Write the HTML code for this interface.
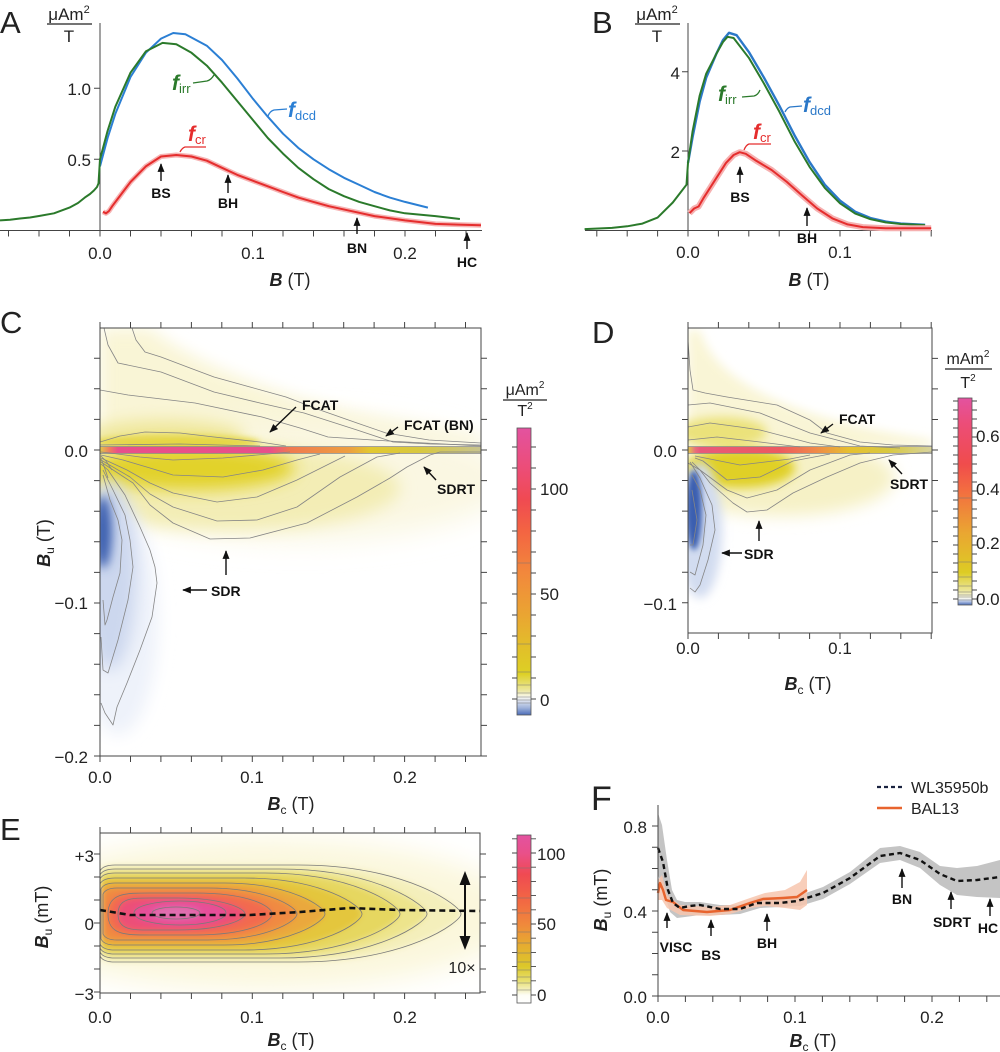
<!DOCTYPE html>
<html><head><meta charset="utf-8"><style>
html,body{margin:0;padding:0;background:#fff;}
svg{display:block;}
.t{font-family:"Liberation Sans",sans-serif;fill:#222;}
.b{font-family:"Liberation Sans Narrow","Liberation Sans",sans-serif;font-weight:bold;fill:#111;}
</style></head><body>
<svg xmlns="http://www.w3.org/2000/svg" width="1000" height="1052" viewBox="0 0 1000 1052">
<defs>
<marker id="ar" viewBox="0 0 10 8" refX="9" refY="4" markerWidth="9" markerHeight="7" markerUnits="userSpaceOnUse" orient="auto"><path d="M0,0L10,4L0,8z" fill="#111"/></marker>
<filter id="f3" x="-50%" y="-50%" width="200%" height="200%"><feGaussianBlur stdDeviation="3"/></filter>
<filter id="f5" x="-50%" y="-50%" width="200%" height="200%"><feGaussianBlur stdDeviation="5"/></filter>
<filter id="f8" x="-50%" y="-50%" width="200%" height="200%"><feGaussianBlur stdDeviation="8"/></filter>
<filter id="f14" x="-50%" y="-50%" width="200%" height="200%"><feGaussianBlur stdDeviation="14"/></filter>
<clipPath id="cC"><rect x="100" y="328" width="381" height="428"/></clipPath>
<clipPath id="cD"><rect x="688" y="328" width="244" height="305"/></clipPath>
<clipPath id="cE"><rect x="100" y="833" width="380" height="160"/></clipPath>
<linearGradient id="cbC" x1="0" y1="0" x2="0" y2="1">
<stop offset="0" stop-color="#e352a0"/><stop offset="0.139" stop-color="#ec4d78"/><stop offset="0.249" stop-color="#f04a52"/><stop offset="0.359" stop-color="#f36442"/><stop offset="0.505" stop-color="#f2883c"/><stop offset="0.652" stop-color="#eaa532"/><stop offset="0.761" stop-color="#e2be2a"/><stop offset="0.856" stop-color="#ddd024"/><stop offset="0.915" stop-color="#ece7a0"/><stop offset="0.937" stop-color="#f8f8ee"/><stop offset="0.95" stop-color="#dde3f0"/><stop offset="0.975" stop-color="#9fb2da"/><stop offset="1" stop-color="#4a6cb8"/>
</linearGradient>
<linearGradient id="cbD" x1="0" y1="0" x2="0" y2="1">
<stop offset="0" stop-color="#e352a0"/><stop offset="0.123" stop-color="#ec4d78"/><stop offset="0.319" stop-color="#f04c4c"/><stop offset="0.45" stop-color="#f36e40"/><stop offset="0.647" stop-color="#eaa532"/><stop offset="0.843" stop-color="#ddcc24"/><stop offset="0.935" stop-color="#ece7a0"/><stop offset="0.967" stop-color="#f8f8ee"/><stop offset="0.98" stop-color="#c5d1ea"/><stop offset="1" stop-color="#4a6cb8"/>
</linearGradient>
<linearGradient id="cbE" x1="0" y1="0" x2="0" y2="1">
<stop offset="0" stop-color="#e352a0"/><stop offset="0.107" stop-color="#e9508a"/><stop offset="0.234" stop-color="#f04a52"/><stop offset="0.403" stop-color="#f26a42"/><stop offset="0.53" stop-color="#f0883c"/><stop offset="0.657" stop-color="#e6ac30"/><stop offset="0.784" stop-color="#dcc82a"/><stop offset="0.868" stop-color="#e8e070"/><stop offset="0.927" stop-color="#f5f2c8"/><stop offset="0.953" stop-color="#fdfdf5"/><stop offset="1" stop-color="#ffffff"/>
</linearGradient>
<linearGradient id="zbC" gradientUnits="userSpaceOnUse" x1="100" y1="0" x2="481" y2="0">
<stop offset="0" stop-color="#e0c84a"/><stop offset="0.026" stop-color="#f07a60"/><stop offset="0.047" stop-color="#e8508a"/><stop offset="0.446" stop-color="#e8508a"/><stop offset="0.499" stop-color="#f07a50"/><stop offset="0.656" stop-color="#eda040"/><stop offset="0.709" stop-color="#e2c830"/><stop offset="0.84" stop-color="#d8c840"/><stop offset="1" stop-color="#c8c490"/>
</linearGradient>
<linearGradient id="zbD" gradientUnits="userSpaceOnUse" x1="688" y1="0" x2="932" y2="0">
<stop offset="0" stop-color="#e0c84a"/><stop offset="0.03" stop-color="#e8707a"/><stop offset="0.05" stop-color="#e85a7a"/><stop offset="0.377" stop-color="#ec5a60"/><stop offset="0.52" stop-color="#f08848"/><stop offset="0.66" stop-color="#e6c030"/><stop offset="0.82" stop-color="#d8c840"/><stop offset="1" stop-color="#d8d4a0"/>
</linearGradient>
</defs>

<!-- ================= PANEL A ================= -->
<text class="t" x="0" y="33" font-size="31">A</text>
<text class="t" x="69" y="20" font-size="17" text-anchor="middle">μAm<tspan font-size="11" dy="-7">2</tspan></text>
<line x1="47" y1="24" x2="92" y2="24" stroke="#222" stroke-width="1.2"/>
<text class="t" x="69" y="42" font-size="17" text-anchor="middle">T</text>
<g stroke="#444" stroke-width="1" fill="none">
<path d="M0,230.5H482M100,23V230.5"/>
<path d="M8.5,230.5v6M39,230.5v6M69.5,230.5v6M100,230.5v6M130.5,230.5v6M161,230.5v6M191.5,230.5v6M222,230.5v6M252.5,230.5v6M283,230.5v6M313.5,230.5v6M344,230.5v6M374.5,230.5v6M405,230.5v6M435.5,230.5v6M466,230.5v6"/>
<path d="M94,159.3H100M94,88.3H100"/>
</g>
<text class="t" x="91" y="95" font-size="17" text-anchor="end">1.0</text>
<text class="t" x="91" y="166" font-size="17" text-anchor="end">0.5</text>
<text class="t" x="100" y="259" font-size="17" text-anchor="middle">0.0</text>
<text class="t" x="253" y="259" font-size="17" text-anchor="middle">0.1</text>
<text class="t" x="405" y="259" font-size="17" text-anchor="middle">0.2</text>
<text class="t" x="290" y="286" font-size="18" text-anchor="middle"><tspan font-style="italic" font-weight="bold">B</tspan> (T)</text>
<polyline fill="none" stroke="#2b7fd4" stroke-width="2" stroke-linejoin="round" points="100,166.4 107.6,138 115.3,113.9 130.5,77 145.8,52.8 161,38.6 173.2,33 185.4,34.3 206.8,45.7 222,60 237.3,78.4 252.5,98.2 267.8,116.7 283,133.7 298.3,147.9 313.5,159.3 328.8,169.2 344,177.8 359.3,184.9 374.5,192 389.8,197.6 405,201.9 427.9,207.6"/>
<polyline fill="none" stroke="#2b7a2b" stroke-width="2" stroke-linejoin="round" points="0,220.4 10,219.8 20,218.5 30,217.5 39,216 54,213.3 69.5,207.6 78,203 84.75,197.6 90,194 93.9,190.5 97,187 98.5,183.4 100,159.3 107.6,130.9 115.3,106.8 130.5,72.7 145.8,51.4 162.5,42.9 176.3,44.3 191.5,52.8 206.8,65.6 222,82.6 237.3,101.1 252.5,119.5 267.8,138 283,153.6 298.3,167.8 313.5,179.2 328.8,189.1 344,196.2 359.3,201.9 374.5,206.2 389.8,210.4 405,213.3 435.5,216.1 459.9,219"/>
<polyline fill="none" stroke="#f6b4b4" stroke-width="5" stroke-linejoin="round" points="103,211.8 106,213.3 109,211 112.2,206.2 122.9,192 130.5,182 145.8,166.4 161,156.5 176.3,155 191.5,156.5 206.8,160.7 222,167.8 237.3,174.9 252.5,180.6 267.8,186.3 283,192 298.3,197.6 313.5,201.9 328.8,206.2 354.7,211.8 374.5,216.1 405,220.4 435.5,223.9 458,224.6 481,225.3"/>
<polyline fill="none" stroke="#e52d2d" stroke-width="2" stroke-linejoin="round" points="103,211.8 106,213.3 109,211 112.2,206.2 122.9,192 130.5,182 145.8,166.4 161,156.5 176.3,155 191.5,156.5 206.8,160.7 222,167.8 237.3,174.9 252.5,180.6 267.8,186.3 283,192 298.3,197.6 313.5,201.9 328.8,206.2 354.7,211.8 374.5,216.1 405,220.4 435.5,223.9 458,224.6 481,225.3"/>
<text x="172" y="90" font-family="Liberation Sans,sans-serif" font-size="21" font-style="italic" font-weight="bold" fill="#2b7a2b">f<tspan font-size="13" font-style="normal" font-weight="normal" dy="3">irr</tspan></text>
<path d="M193,83L207,81Q211,80 214,75" fill="none" stroke="#2b7a2b" stroke-width="1.3"/>
<text x="288" y="117" font-family="Liberation Sans,sans-serif" font-size="21" font-style="italic" font-weight="bold" fill="#2b7fd4">f<tspan font-size="13" font-style="normal" font-weight="normal" dy="3">dcd</tspan></text>
<path d="M287,109L274,110Q270,111 268,116" fill="none" stroke="#2b7fd4" stroke-width="1.3"/>
<text x="188" y="141" font-family="Liberation Sans,sans-serif" font-size="21" font-style="italic" font-weight="bold" fill="#e52d2d">f<tspan font-size="13" font-style="normal" font-weight="normal" dy="3">cr</tspan></text>
<path d="M206,147L185,147Q182,148 180,152" fill="none" stroke="#e52d2d" stroke-width="1.3"/>
<g stroke="#111" stroke-width="1.4" marker-end="url(#ar)">
<line x1="161" y1="181" x2="161" y2="164"/><line x1="228" y1="193" x2="228" y2="175"/><line x1="357" y1="234" x2="357" y2="218"/><line x1="467" y1="249" x2="467" y2="233"/>
</g>
<g class="b" font-size="14" text-anchor="middle">
<text x="161" y="198">BS</text><text x="228" y="208">BH</text><text x="357" y="253">BN</text><text x="467" y="267">HC</text>
</g>

<!-- ================= PANEL B ================= -->
<text class="t" x="592" y="33" font-size="31">B</text>
<text class="t" x="657" y="20" font-size="17" text-anchor="middle">μAm<tspan font-size="11" dy="-7">2</tspan></text>
<line x1="635" y1="24" x2="680" y2="24" stroke="#222" stroke-width="1.2"/>
<text class="t" x="657" y="42" font-size="17" text-anchor="middle">T</text>
<g stroke="#444" stroke-width="1" fill="none">
<path d="M585,230.5H932M688,23V230.5"/>
<path d="M596.8,230.5v6M627.2,230.5v6M657.6,230.5v6M688,230.5v6M718.4,230.5v6M748.8,230.5v6M779.2,230.5v6M809.6,230.5v6M840,230.5v6M870.4,230.5v6M900.8,230.5v6M931.2,230.5v6"/>
<path d="M682,151H688M682,71.7H688"/>
</g>
<text class="t" x="680" y="79" font-size="17" text-anchor="end">4</text>
<text class="t" x="680" y="158" font-size="17" text-anchor="end">2</text>
<text class="t" x="688" y="258" font-size="17" text-anchor="middle">0.0</text>
<text class="t" x="840" y="258" font-size="17" text-anchor="middle">0.1</text>
<text class="t" x="809" y="286" font-size="18" text-anchor="middle"><tspan font-style="italic" font-weight="bold">B</tspan> (T)</text>
<polyline fill="none" stroke="#2b78c8" stroke-width="2.4" stroke-linejoin="round" points="688,162.9 692.6,137.1 699.7,101.4 706.2,77.7 716.3,53.9 723,40 729,32.8 736.6,35.2 748.8,51.9 764,77.7 779.2,105.4 794.4,135.1 809.6,162.1 824.8,184.7 840,200.6 855.2,211.7 870.4,218 885.6,221.6 900.8,223.6 925.1,224.8"/>
<polyline fill="none" stroke="#2b7a2b" stroke-width="2" stroke-linejoin="round" points="584.6,229.1 612,227.9 627.2,226.3 642.4,223.6 657.6,217.6 672.8,202.5 680.4,192.6 686.5,184.7 688,162.9 692.6,131.2 699.7,95.5 706.2,73.7 716.3,53.9 723,42 727.5,36.8 733.6,38 748.8,57.8 764,83.6 779.2,111.4 794.4,141.1 809.6,166.9 824.8,187.9 840,203.3 855.2,213.6 870.4,219.2 885.6,222.4 900.8,224 925.1,225.1"/>
<polyline fill="none" stroke="#f6b0b0" stroke-width="6" stroke-linejoin="round" points="689.5,213.2 694.1,208.5 698.6,206.5 703.2,198.6 710.8,186.7 718.4,174.8 726,162.9 733.6,155 739.7,152.2 745.8,153.8 756.4,160.9 771.6,170 786.8,181.9 802,195.4 817.2,208.5 832.4,218.4 847.6,224.4 862.8,227.1 885.6,228.3 931.2,228.3"/>
<polyline fill="none" stroke="#e52d2d" stroke-width="2" stroke-linejoin="round" points="689.5,213.2 694.1,208.5 698.6,206.5 703.2,198.6 710.8,186.7 718.4,174.8 726,162.9 733.6,155 739.7,152.2 745.8,153.8 756.4,160.9 771.6,170 786.8,181.9 802,195.4 817.2,208.5 832.4,218.4 847.6,224.4 862.8,227.1 885.6,228.3 931.2,228.3"/>
<text x="718" y="101" font-family="Liberation Sans,sans-serif" font-size="21" font-style="italic" font-weight="bold" fill="#2b7a2b">f<tspan font-size="13" font-style="normal" font-weight="normal" dy="3">irr</tspan></text>
<path d="M742,97L754,96Q758,95 760,90" fill="none" stroke="#2b7a2b" stroke-width="1.3"/>
<text x="803" y="112" font-family="Liberation Sans,sans-serif" font-size="21" font-style="italic" font-weight="bold" fill="#2b78c8">f<tspan font-size="13" font-style="normal" font-weight="normal" dy="3">dcd</tspan></text>
<path d="M802,106L790,107Q787,108 785,112" fill="none" stroke="#2b78c8" stroke-width="1.3"/>
<text x="753" y="139" font-family="Liberation Sans,sans-serif" font-size="21" font-style="italic" font-weight="bold" fill="#e52d2d">f<tspan font-size="13" font-style="normal" font-weight="normal" dy="3">cr</tspan></text>
<path d="M771,144L749,144Q746,145 744,150" fill="none" stroke="#e52d2d" stroke-width="1.3"/>
<g stroke="#111" stroke-width="1.4" marker-end="url(#ar)">
<line x1="740" y1="183" x2="740" y2="167"/><line x1="807" y1="226" x2="807" y2="208"/>
</g>
<g class="b" font-size="14" text-anchor="middle">
<text x="740" y="202">BS</text><text x="807" y="243">BH</text>
</g>

<!-- ================= PANEL C ================= -->
<text class="t" x="0" y="333" font-size="31">C</text>
<g clip-path="url(#cC)">
<path d="M100,328L150,328C200,370 320,415 481,436L481,447L100,447Z" fill="#f9f5d6" filter="url(#f8)"/>
<ellipse cx="300" cy="480" rx="210" ry="60" fill="#faf7e2" filter="url(#f14)"/>
<ellipse cx="230" cy="488" rx="170" ry="42" fill="#f3edb5" filter="url(#f8)"/>
<ellipse cx="165" cy="436" rx="80" ry="16" fill="#efe79a" filter="url(#f8)"/>
<ellipse cx="175" cy="442" rx="85" ry="7" fill="#e6d850" filter="url(#f3)"/>
<ellipse cx="190" cy="468" rx="105" ry="22" fill="#e2d22a" filter="url(#f8)"/>
<ellipse cx="118" cy="620" rx="40" ry="115" fill="#eef2fa" filter="url(#f8)"/>
<ellipse cx="110" cy="575" rx="26" ry="95" fill="#ccd7ee" filter="url(#f8)"/>
<ellipse cx="103" cy="532" rx="9" ry="36" fill="#3c60b0" filter="url(#f5)"/>
<rect x="100" y="447" width="381" height="6" fill="url(#zbC)"/>
<g fill="none" stroke="#858585" stroke-width="0.8" stroke-linejoin="round">
<path d="M132,328L136,340L145,352L161,357L190,368L214,377L250,387L286,397L320,410L357,423L386,433L429,440L481,443"/>
<path d="M104,328L108,345L118,363L161,372L214,392L260,403L304,413L357,430L393,442L430,444L481,445"/>
<path d="M100,390L128,395L195,403L262,417L300,428L328,437L388,441L481,446"/>
<path d="M100,442L120,436L145,432L180,433L214,437L260,442L286,446"/>
<path d="M100,445L180,444L260,446"/>
<path d="M100,446.5L481,446.5M100,453.5L481,453.5"/>
<path d="M101,452L110,453L140,457L173,460L223,458L257,455L290,452"/>
<path d="M101,455L123,460L150,468L173,475L223,477L263,470L297,460L320,454"/>
<path d="M101,458L127,470L150,483L173,493L217,502L257,497L297,480L323,467L345,456"/>
<path d="M101,460L130,477L150,494L173,507L217,521L257,520L297,507L340,477L377,457L400,453"/>
<path d="M101,462L133,483L150,505L173,523L210,539L250,538L307,523L357,497L390,478L407,467L430,455L440,452L481,452"/>
<path d="M101,464L108,470L125,495L140,527L150,550L155,567L157,583L152,617L140,650L127,683L117,707L113,725L105,713L101,703"/>
<path d="M103,470L113,490L125,515L130,540L133,567L128,600L118,640L108,673L103,670L101,637"/>
<path d="M103,475L110,500L118,520L122,540L120,573L113,597L107,620L105,625L103,600"/>
<path d="M101,456L106,461L112,470M101,459L104,466L108,478"/>
</g>
</g>
<g stroke="#444" stroke-width="1" fill="none">
<rect x="100" y="328" width="381" height="428"/>
<path d="M100,328v-6M130.5,328v-6M160.9,328v-6M191.4,328v-6M221.8,328v-6M252.3,328v-6M282.8,328v-6M313.2,328v-6M343.7,328v-6M374.1,328v-6M404.6,328v-6M435.1,328v-6M465.5,328v-6"/>
<path d="M100,756v6M130.5,756v6M160.9,756v6M191.4,756v6M221.8,756v6M252.3,756v6M282.8,756v6M313.2,756v6M343.7,756v6M374.1,756v6M404.6,756v6M435.1,756v6M465.5,756v6"/>
<path d="M94,358.2h6M94,388.8h6M94,419.4h6M94,450h6M94,480.6h6M94,511.2h6M94,541.8h6M94,572.4h6M94,603h6M94,633.6h6M94,664.2h6M94,694.8h6M94,725.4h6M94,756h6"/>
<path d="M481,358.2h6M481,388.8h6M481,419.4h6M481,450h6M481,480.6h6M481,511.2h6M481,541.8h6M481,572.4h6M481,603h6M481,633.6h6M481,664.2h6M481,694.8h6M481,725.4h6M481,756h6"/>
</g>
<text class="t" x="88" y="457" font-size="17" text-anchor="end">0.0</text>
<text class="t" x="88" y="609" font-size="17" text-anchor="end">−0.1</text>
<text class="t" x="88" y="763" font-size="17" text-anchor="end">−0.2</text>
<text class="t" x="100" y="783" font-size="17" text-anchor="middle">0.0</text>
<text class="t" x="252" y="783" font-size="17" text-anchor="middle">0.1</text>
<text class="t" x="405" y="783" font-size="17" text-anchor="middle">0.2</text>
<text class="t" x="291" y="810" font-size="18" text-anchor="middle"><tspan font-style="italic" font-weight="bold">B</tspan><tspan font-size="12" dy="4">c</tspan><tspan dy="-4"> (T)</tspan></text>
<text class="t" transform="translate(50,543) rotate(-90)" font-size="18" text-anchor="middle"><tspan font-style="italic" font-weight="bold">B</tspan><tspan font-size="12" dy="4">u</tspan><tspan dy="-4"> (T)</tspan></text>
<g stroke="#111" stroke-width="1.4" marker-end="url(#ar)" fill="none">
<line x1="296" y1="407" x2="270" y2="432"/><line x1="398" y1="427" x2="386" y2="436"/><line x1="436" y1="480" x2="424" y2="467"/><line x1="207" y1="590" x2="183" y2="590"/><line x1="226" y1="575" x2="226" y2="551"/>
</g>
<g class="b" font-size="14">
<text x="302" y="410">FCAT</text><text x="404" y="430">FCAT (BN)</text><text x="437" y="494">SDRT</text><text x="211" y="596">SDR</text>
</g>
<!-- colorbar C -->
<text class="t" x="525" y="395" font-size="16" text-anchor="middle">μAm<tspan font-size="10" dy="-7">2</tspan></text>
<line x1="503" y1="400" x2="547" y2="400" stroke="#222" stroke-width="1.2"/>
<text class="t" x="525" y="416" font-size="16" text-anchor="middle">T<tspan font-size="10" dy="-7">2</tspan></text>
<rect x="517" y="428" width="14" height="287" fill="url(#cbC)" stroke="#555" stroke-width="0.8"/>
<g stroke="#777" stroke-width="0.6"><path d="M517,563h14M517,644h14M517,672h14M517,685h14M517,693h14M517,697h14M517,700h14M517,703h14"/></g>
<g stroke="#444" stroke-width="0.9"><path d="M512,699h5M512,678h5M512,657h5M512,636h5M512,615h5M512,594h5M512,573h5M512,552h5M512,531h5M512,510h5M512,489h5M512,468h5M512,447h5M531,699h5M531,678h5M531,657h5M531,636h5M531,615h5M531,594h5M531,573h5M531,552h5M531,531h5M531,510h5M531,489h5M531,468h5M531,447h5"/></g>
<text class="t" x="540" y="495" font-size="17">100</text>
<text class="t" x="540" y="600" font-size="17">50</text>
<text class="t" x="540" y="706" font-size="17">0</text>

<!-- ================= PANEL D ================= -->
<text class="t" x="592" y="343" font-size="31">D</text>
<g clip-path="url(#cD)">
<path d="M688,330L700,330C715,385 800,420 932,440L932,447L688,447Z" fill="#f9f5d6" filter="url(#f5)"/>
<ellipse cx="780" cy="478" rx="115" ry="38" fill="#f6f1c6" filter="url(#f8)"/>
<ellipse cx="722" cy="432" rx="45" ry="15" fill="#ebe27a" filter="url(#f5)"/>
<ellipse cx="740" cy="468" rx="55" ry="20" fill="#e0d028" filter="url(#f5)"/>
<ellipse cx="700" cy="530" rx="22" ry="68" fill="#d2dcf0" filter="url(#f5)"/>
<ellipse cx="694" cy="510" rx="8" ry="40" fill="#3a5fb0" filter="url(#f3)"/>
<rect x="688" y="447" width="244" height="6" fill="url(#zbD)"/>
<g fill="none" stroke="#858585" stroke-width="0.8" stroke-linejoin="round">
<path d="M688,340L690,370L693,390L705,393L727,397L777,405L810,420L827,433L860,442L893,445L932,446"/>
<path d="M688,405L710,403L760,413L790,425L810,433L860,446L900,448"/>
<path d="M688,427L710,423L740,427L760,430L810,443L840,447"/>
<path d="M688,440L717,437L760,442L800,447"/>
<path d="M688,446.5L932,446.5M688,453.5L932,453.5"/>
<path d="M688,463L700,470L710,483L733,503L747,512L767,510L793,493L827,477L860,463L893,455L932,452"/>
<path d="M692,462L700,470L727,490L747,498L777,490L810,470L850,455L870,453"/>
<path d="M695,458L703,461L727,480L760,477L793,461L830,454"/>
<path d="M695,456L740,465L790,459L810,455"/>
<path d="M690,462L700,478L712,505L715,530L708,560L700,585L695,592L690,588"/>
<path d="M692,475L700,490L706,515L703,545L695,575L690,572"/>
<path d="M692,490L697,520L693,545L690,545"/>
</g>
</g>
<g stroke="#444" stroke-width="1" fill="none">
<rect x="688" y="328" width="244" height="305"/>
<path d="M688,328v-6M718.4,328v-6M748.8,328v-6M779.2,328v-6M809.6,328v-6M840,328v-6M870.4,328v-6M900.8,328v-6M931.2,328v-6"/>
<path d="M688,633v6M718.4,633v6M748.8,633v6M779.2,633v6M809.6,633v6M840,633v6M870.4,633v6M900.8,633v6M931.2,633v6"/>
<path d="M682,358.4h6M682,388.9h6M682,419.5h6M682,450h6M682,480.5h6M682,511.1h6M682,541.6h6M682,572.2h6M682,602.7h6"/>
<path d="M932,358.4h6M932,388.9h6M932,419.5h6M932,450h6M932,480.5h6M932,511.1h6M932,541.6h6M932,572.2h6M932,602.7h6"/>
</g>
<text class="t" x="677" y="457" font-size="17" text-anchor="end">0.0</text>
<text class="t" x="677" y="610" font-size="17" text-anchor="end">−0.1</text>
<text class="t" x="688" y="654" font-size="17" text-anchor="middle">0.0</text>
<text class="t" x="840" y="654" font-size="17" text-anchor="middle">0.1</text>
<text class="t" x="808" y="690" font-size="18" text-anchor="middle"><tspan font-style="italic" font-weight="bold">B</tspan><tspan font-size="12" dy="4">c</tspan><tspan dy="-4"> (T)</tspan></text>
<g stroke="#111" stroke-width="1.4" marker-end="url(#ar)" fill="none">
<line x1="833" y1="424" x2="821" y2="433"/><line x1="902" y1="474" x2="889" y2="460"/><line x1="742" y1="553" x2="722" y2="553"/><line x1="759" y1="541" x2="759" y2="521"/>
</g>
<g class="b" font-size="14">
<text x="839" y="424">FCAT</text><text x="890" y="489">SDRT</text><text x="744" y="559">SDR</text>
</g>
<text class="t" x="968" y="364" font-size="16" text-anchor="middle">mAm<tspan font-size="10" dy="-7">2</tspan></text>
<line x1="945" y1="369" x2="992" y2="369" stroke="#222" stroke-width="1.2"/>
<text class="t" x="968" y="388" font-size="16" text-anchor="middle">T<tspan font-size="10" dy="-7">2</tspan></text>
<rect x="958" y="398" width="14" height="207" fill="url(#cbD)" stroke="#555" stroke-width="0.8"/>
<g stroke="#777" stroke-width="0.6"><path d="M958,498h14M958,562h14M958,577h14M958,586h14M958,592h14M958,595h14M958,597h14M958,600h14"/></g>
<g stroke="#444" stroke-width="0.9"><path d="M953,599h5M953,590h5M953,581h5M953,572h5M953,563h5M953,554h5M953,545h5M953,536h5M953,527h5M953,518h5M953,509h5M953,500h5M953,491h5M953,482h5M953,473h5M953,464h5M953,455h5M953,446h5M953,437h5M953,428h5M953,419h5M953,410h5M953,401h5M972,599h5M972,590h5M972,581h5M972,572h5M972,563h5M972,554h5M972,545h5M972,536h5M972,527h5M972,518h5M972,509h5M972,500h5M972,491h5M972,482h5M972,473h5M972,464h5M972,455h5M972,446h5M972,437h5M972,428h5M972,419h5M972,410h5M972,401h5"/></g>
<text class="t" x="976" y="442" font-size="17">0.6</text>
<text class="t" x="976" y="495" font-size="17">0.4</text>
<text class="t" x="976" y="549" font-size="17">0.2</text>
<text class="t" x="976" y="605" font-size="17">0.0</text>

<!-- ================= PANEL E ================= -->
<text class="t" x="0" y="840" font-size="31">E</text>
<g clip-path="url(#cE)">
<ellipse cx="260" cy="914" rx="260" ry="75" fill="#fbf7dc" filter="url(#f14)"/>
<g filter="url(#f3)">
<path d="M100,871Q103,865 115,865L298.6,865C406.9,865 461,906 461,914C461,922 406.9,962 298.6,962L115,962Q103,962 100,956Z" fill="#f4efbb"/>
<path d="M100,875Q103,869 115,869L279.9,869C378,869 427,906 427,914C427,922 378,958 279.9,958L115,958Q103,958 100,952Z" fill="#ede48c"/>
<path d="M100,879Q103,873 115,873L265,873C355,873 400,906 400,914C400,922 355,954 265,954L115,954Q103,954 100,948Z" fill="#e6d760"/>
<path d="M100,884Q103,878 115,878L244,878C322.7,878 362,906 362,914C362,922 322.7,950 244,950L115,950Q103,950 100,944Z" fill="#e4c63c"/>
<path d="M101,889Q104,883 115,883L224,883C291,883 325,907 325,914C325,921 291,945 224,945L115,945Q104,945 101,939Z" fill="#eaa83c"/>
<path d="M103,894Q106,888 117,888L208,888C267,888 297,907 297,914C297,921 267,940 208,940L117,940Q106,940 103,934Z" fill="#f08a42"/>
<path d="M108,914C108,893 125,893 150,893L195,893C248,893 272,906 272,914C272,922 248,935 195,935L150,935C125,935 108,935 108,914Z" fill="#f26a50"/>
<path d="M118,914C118,898 132,898 150,898L178,898C222,898 245,908 245,914C245,920 222,930 178,930L150,930C132,930 118,930 118,914Z" fill="#ec5078"/>
<ellipse cx="180" cy="913" rx="46" ry="12" fill="#e6509a"/>
<ellipse cx="176" cy="913" rx="24" ry="6" fill="#e070b0"/>
</g>
<g fill="none" stroke="#7a7a7a" stroke-width="0.8">
<path d="M100,871Q103,865 115,865L298.6,865C406.9,865 461,906 461,914C461,922 406.9,962 298.6,962L115,962Q103,962 100,956"/>
<path d="M100,875Q103,869 115,869L279.9,869C378,869 427,906 427,914C427,922 378,958 279.9,958L115,958Q103,958 100,952"/>
<path d="M100,879Q103,873 115,873L265,873C355,873 400,906 400,914C400,922 355,954 265,954L115,954Q103,954 100,948"/>
<path d="M100,884Q103,878 115,878L244,878C322.7,878 362,906 362,914C362,922 322.7,950 244,950L115,950Q103,950 100,944"/>
<path d="M101,889Q104,883 115,883L224,883C291,883 325,907 325,914C325,921 291,945 224,945L115,945Q104,945 101,939Z"/>
<path d="M103,894Q106,888 117,888L208,888C267,888 297,907 297,914C297,921 267,940 208,940L117,940Q106,940 103,934Z"/>
<path d="M108,914C108,893 125,893 150,893L195,893C248,893 272,906 272,914C272,922 248,935 195,935L150,935C125,935 108,935 108,914Z"/>
<path d="M118,914C118,898 132,898 150,898L178,898C222,898 245,908 245,914C245,920 222,930 178,930L150,930C132,930 118,930 118,914Z"/>
<ellipse cx="180" cy="913" rx="46" ry="12"/>
<ellipse cx="176" cy="913" rx="24" ry="6"/>
</g>
<polyline fill="none" stroke="#111" stroke-width="2.6" stroke-dasharray="6,4" points="100,910 130,915 250,915 300,912 350,908 400,910 480,911"/>
</g>
<g stroke="#444" stroke-width="1" fill="none">
<rect x="100" y="833" width="380" height="160"/>
<path d="M100,833v-6M130.5,833v-6M160.9,833v-6M191.4,833v-6M221.8,833v-6M252.3,833v-6M282.8,833v-6M313.2,833v-6M343.7,833v-6M374.1,833v-6M404.6,833v-6M435.1,833v-6M465.5,833v-6"/>
<path d="M100,993v6M130.5,993v6M160.9,993v6M191.4,993v6M221.8,993v6M252.3,993v6M282.8,993v6M313.2,993v6M343.7,993v6M374.1,993v6M404.6,993v6M435.1,993v6M465.5,993v6"/>
<path d="M94,854h6M94,877h6M94,900h6M94,923h6M94,946h6M94,969h6M94,992h6M480,854h6M480,877h6M480,900h6M480,923h6M480,946h6M480,969h6M480,992h6"/>
</g>
<line x1="465" y1="880" x2="465" y2="940" stroke="#111" stroke-width="2"/>
<polygon points="465,871 459.5,885 470.5,885" fill="#111"/>
<polygon points="465,950 459.5,936 470.5,936" fill="#111"/>
<text class="t" x="462" y="973" font-size="16" text-anchor="middle">10×</text>
<text class="t" x="94" y="862" font-size="17" text-anchor="end">+3</text>
<text class="t" x="94" y="930" font-size="17" text-anchor="end">0</text>
<text class="t" x="94" y="1000" font-size="17" text-anchor="end">−3</text>
<text class="t" x="100" y="1023" font-size="17" text-anchor="middle">0.0</text>
<text class="t" x="252" y="1023" font-size="17" text-anchor="middle">0.1</text>
<text class="t" x="405" y="1023" font-size="17" text-anchor="middle">0.2</text>
<text class="t" x="291" y="1046" font-size="18" text-anchor="middle"><tspan font-style="italic" font-weight="bold">B</tspan><tspan font-size="12" dy="4">c</tspan><tspan dy="-4"> (T)</tspan></text>
<text class="t" transform="translate(48,917) rotate(-90)" font-size="18" text-anchor="middle"><tspan font-style="italic" font-weight="bold">B</tspan><tspan font-size="12" dy="4">u</tspan><tspan dy="-4"> (mT)</tspan></text>
<rect x="517" y="835" width="14" height="168" fill="url(#cbE)" stroke="#555" stroke-width="0.8"/>
<g stroke="#777" stroke-width="0.6"><path d="M517,868h14M517,898h14M517,913h14M517,932h14M517,943h14M517,953h14M517,962h14M517,970h14M517,977h14M517,983h14M517,990h14"/></g>
<g stroke="#444" stroke-width="0.9"><path d="M512,995h5M512,980.8h5M512,966.6h5M512,952.4h5M512,938.2h5M512,924h5M512,909.8h5M512,895.6h5M512,881.4h5M512,867.2h5M512,853h5M512,838.8h5M531,995h5M531,980.8h5M531,966.6h5M531,952.4h5M531,938.2h5M531,924h5M531,909.8h5M531,895.6h5M531,881.4h5M531,867.2h5M531,853h5M531,838.8h5"/></g>
<text class="t" x="537" y="860" font-size="17">100</text>
<text class="t" x="537" y="930" font-size="17">50</text>
<text class="t" x="537" y="1001" font-size="17">0</text>

<!-- ================= PANEL F ================= -->
<text class="t" x="591" y="810" font-size="34">F</text>
<line x1="877" y1="787" x2="902" y2="787" stroke="#1a2340" stroke-width="2.2" stroke-dasharray="4,3"/>
<text class="t" x="911" y="793" font-size="16">WL35950b</text>
<line x1="877" y1="808" x2="902" y2="808" stroke="#e8642e" stroke-width="2.4"/>
<text class="t" x="911" y="814" font-size="16">BAL13</text>
<polygon fill="#c4c4c4" points="658,813 662,825 667,860 672,890 677,900 685,902 700,902 720,905 740,905 760,897 780,897 800,895 823,887 850,872 880,848 900,846 920,852 940,866 957,868 977,866 1000,860 1000,898 977,897 957,895 940,885 920,868 900,860 880,863 850,884 823,899 800,906 780,907 760,908 740,914 720,915 700,915 685,917 677,918 670,912 665,895 660,880 658,875"/>
<polygon fill="#f7c6ae" fill-opacity="0.85" points="658,880 662,875 667,895 680,905 710,907 730,905 750,898 765,893 785,890 800,882 807,870 807,905 800,910 785,908 765,906 750,908 730,914 710,916 680,915 667,908 662,900 658,900"/>
<polyline fill="none" stroke="#e8642e" stroke-width="2.4" stroke-linejoin="round" points="658,893 660,883 663,890 666,900 673,902 683,910 707,912 730,910 750,903 763,899 783,898 797,897 807,890"/>
<polyline fill="none" stroke="#111" stroke-width="2.4" stroke-dasharray="5,3.5" stroke-linejoin="round" points="658,848 663,862 668,890 673,903 680,908 690,906 700,905 720,909 740,909 757,903 780,903 797,901 823,893 850,878 880,856 900,853 920,860 940,874 957,881 977,880 1000,877"/>
<g stroke="#444" stroke-width="1" fill="none">
<path d="M658,805V996H1000"/>
<path d="M658,996v6M685.4,996v6M712.8,996v6M740.2,996v6M767.6,996v6M795,996v6M822.4,996v6M849.8,996v6M877.2,996v6M904.6,996v6M932,996v6M959.4,996v6M986.8,996v6"/>
<path d="M652,826h6M652,847.25h6M652,868.5h6M652,889.75h6M652,911h6M652,932.25h6M652,953.5h6M652,974.75h6M652,996h6"/>
</g>
<text class="t" x="647" y="833" font-size="17" text-anchor="end">0.8</text>
<text class="t" x="647" y="918" font-size="17" text-anchor="end">0.4</text>
<text class="t" x="647" y="1003" font-size="17" text-anchor="end">0.0</text>
<text class="t" x="658" y="1023" font-size="17" text-anchor="middle">0.0</text>
<text class="t" x="795" y="1023" font-size="17" text-anchor="middle">0.1</text>
<text class="t" x="932" y="1023" font-size="17" text-anchor="middle">0.2</text>
<text class="t" x="813" y="1047" font-size="18" text-anchor="middle"><tspan font-style="italic" font-weight="bold">B</tspan><tspan font-size="12" dy="4">c</tspan><tspan dy="-4"> (T)</tspan></text>
<text class="t" transform="translate(607,900) rotate(-90)" font-size="18" text-anchor="middle"><tspan font-style="italic" font-weight="bold">B</tspan><tspan font-size="12" dy="4">u</tspan><tspan dy="-4"> (mT)</tspan></text>
<g stroke="#111" stroke-width="1.4" marker-end="url(#ar)">
<line x1="667" y1="928" x2="667" y2="913"/><line x1="711" y1="936" x2="711" y2="920"/><line x1="767" y1="931" x2="767" y2="914"/><line x1="902" y1="888" x2="902" y2="869"/><line x1="951" y1="909" x2="951" y2="892"/><line x1="990" y1="916" x2="990" y2="899"/>
</g>
<g class="b" font-size="14" text-anchor="middle">
<text x="676" y="952">VISC</text><text x="711" y="960">BS</text><text x="767" y="948">BH</text><text x="902" y="904">BN</text><text x="952" y="927">SDRT</text><text x="988" y="933">HC</text>
</g>
</svg>
</body></html>
